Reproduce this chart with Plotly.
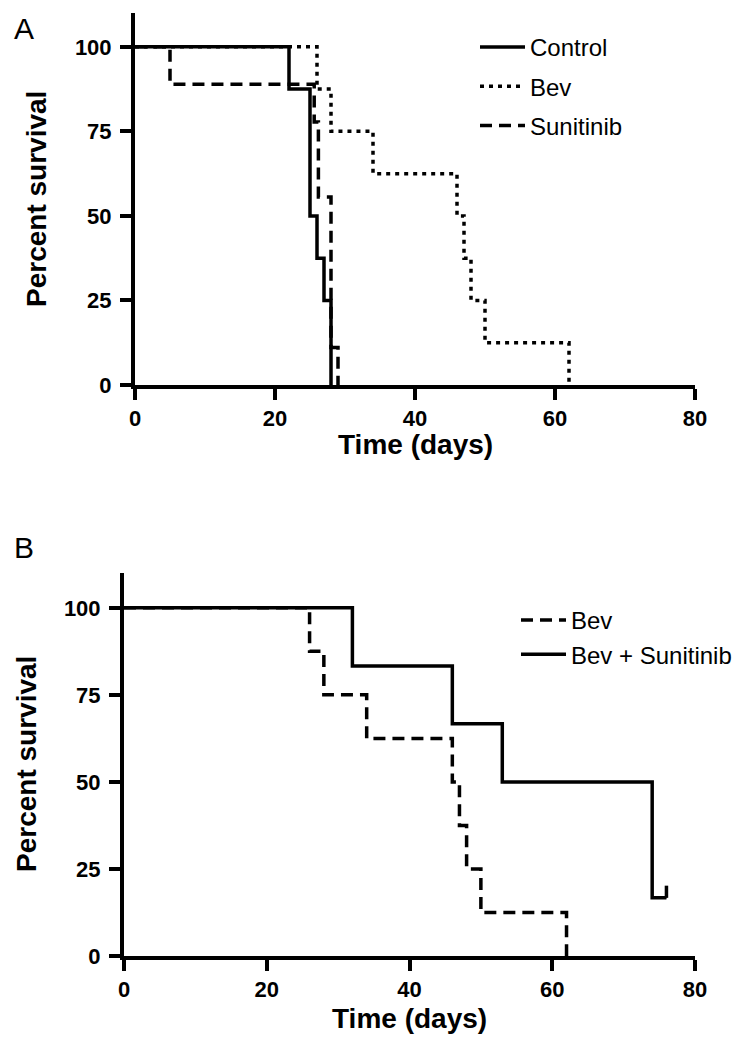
import plotly.graph_objects as go

W, H = 740, 1045

# ---- Panel A data (Kaplan-Meier steps) ----
control_days = [0, 22, 25, 26, 27, 28]
control_surv = [100, 87.5, 50, 37.5, 25, 0]

bev_days = [0, 26, 28, 34, 46, 47, 48, 50, 62]
bev_surv = [100, 87.5, 75, 62.5, 50, 37.5, 25, 12.5, 0]

sun_days = [0, 5, 25.6, 26.2, 28, 29]
sun_surv = [100, 88.9, 77.8, 55.6, 11.1, 0]

# ---- Panel B data ----
bevB_days = [0, 26, 28, 34, 46, 47, 48, 50, 62]
bevB_surv = [100, 87.5, 75, 62.5, 50, 37.5, 25, 12.5, 0]

combo_days = [0, 32, 46, 53, 74, 76]
combo_surv = [100, 83.3, 66.7, 50, 16.7, 16.7]
combo_censor_days = [76]
combo_censor_surv = [16.7]

x_ticks = [0, 20, 40, 60, 80]
y_ticks = [0, 25, 50, 75, 100]

FONT = "Liberation Sans"
LW = 3.5
DASH = "12px,7px"
DOT = "4px,5px"

fig = go.Figure()

def step(x, y, name, dash, xa, ya, legend, group):
    fig.add_trace(go.Scatter(
        x=x, y=y, mode="lines", name=name, line_shape="hv",
        line=dict(color="black", width=LW, dash=dash),
        xaxis=xa, yaxis=ya, legend=legend, legendgroup=group))

step(control_days, control_surv, "Control", "solid", "x", "y", "legend", "c")
step(bev_days, bev_surv, "Bev", DOT, "x", "y", "legend", "b")
step(sun_days, sun_surv, "Sunitinib", DASH, "x", "y", "legend", "s")

step(bevB_days, bevB_surv, "Bev", DASH, "x2", "y2", "legend2", "b2")
step(combo_days, combo_surv, "Bev + Sunitinib", "solid", "x2", "y2", "legend2", "c2")

# censor tick (upward) for Bev + Sunitinib
fig.add_trace(go.Scatter(
    x=combo_censor_days, y=combo_censor_surv, mode="markers",
    marker=dict(size=1, color="black"),
    error_y=dict(type="data", symmetric=False, array=[3.5], arrayminus=[0],
                 width=0, thickness=LW, color="black"),
    xaxis="x2", yaxis="y2", showlegend=False, hoverinfo="skip"))

tickfont = dict(family=FONT, size=22, color="black", weight="bold")

def xaxis(domain, anchor):
    return dict(domain=domain, anchor=anchor, range=[0, 80], tickvals=x_ticks,
                showline=True, linewidth=4, linecolor="black", ticks="outside",
                ticklen=11, tickwidth=3.5, tickcolor="black", showgrid=False,
                zeroline=False, tickfont=tickfont, automargin=False, fixedrange=True)

def yaxis(domain, anchor):
    return dict(domain=domain, anchor=anchor, range=[0, 110], tickvals=y_ticks,
                showline=True, linewidth=4, linecolor="black", ticks="outside",
                ticklen=11, tickwidth=3.5, tickcolor="black", showgrid=False,
                zeroline=False, tickfont=tickfont, automargin=False, fixedrange=True,
                ticklabelstandoff=4)

def px(x):
    return x / W

def py(y):
    return (H - y) / H

legfont = dict(family=FONT, size=24, color="black")

fig.update_layout(
    width=W, height=H, template="none",
    paper_bgcolor="white", plot_bgcolor="white",
    margin=dict(l=0, r=0, t=0, b=0),
    xaxis=xaxis([px(127), px(687)], "y"),
    yaxis=yaxis([py(377), py(5)], "x"),
    xaxis2=xaxis([px(116), px(687)], "y2"),
    yaxis2=yaxis([py(948), py(565)], "x2"),
    legend=dict(x=px(467), y=py(17), xanchor="left", yanchor="top",
                font=legfont, bgcolor="rgba(0,0,0,0)", traceorder="grouped",
                tracegroupgap=5, itemwidth=45),
    legend2=dict(x=px(508), y=py(590), xanchor="left", yanchor="top",
                 font=legfont, bgcolor="rgba(0,0,0,0)", traceorder="grouped",
                 tracegroupgap=0, itemwidth=45),
    showlegend=True,
)

title_font = dict(family=FONT, size=28, color="black", weight="bold")
ann = [
    dict(text="Percent survival", x=px(28), y=py(191), textangle=-90, font=title_font),
    dict(text="Percent survival", x=px(18), y=py(756), textangle=-90, font=title_font),
    dict(text="Time (days)", x=px(407), y=py(436), font=title_font),
    dict(text="Time (days)", x=px(401), y=py(1010), font=title_font),
    dict(text="A", x=px(16), y=py(21), font=dict(family=FONT, size=30, color="black")),
    dict(text="B", x=px(16), y=py(539), font=dict(family=FONT, size=30, color="black")),
]
for a in ann:
    a.update(xref="paper", yref="paper", showarrow=False, xanchor="center", yanchor="middle")
fig.update_layout(annotations=ann)

fig.write_html("out.html")
